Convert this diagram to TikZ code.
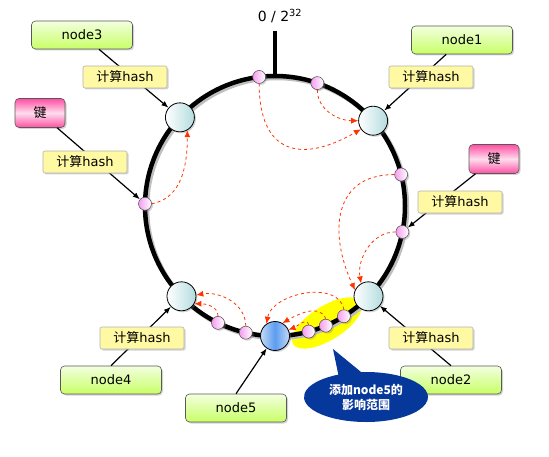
\documentclass[tikz,border=0pt]{standalone}
\usepackage{fontspec}
\setmainfont{DejaVu Sans}
\newfontfamily\cjk{Noto Sans CJK SC}
\usetikzlibrary{shapes.callouts,shadows,arrows.meta}

\definecolor{hubteal}{HTML}{B3DCDF}
\definecolor{hubblue}{HTML}{5C9CF0}
\definecolor{hubbluelt}{HTML}{C4DAF6}
\definecolor{dotpink}{HTML}{F59CF0}
\definecolor{greentop}{HTML}{F3FFDF}
\definecolor{greenbot}{HTML}{C8FF66}
\definecolor{pinkdk}{HTML}{FF4FA3}
\definecolor{pinklt}{HTML}{FFDDEE}
\definecolor{hashyellow}{HTML}{FFF9A3}
\definecolor{moved}{HTML}{FF3300}
\definecolor{notenavy}{HTML}{06379A}
\definecolor{hilite}{HTML}{FFFF00}

\tikzset{
    softshadow/.style={drop shadow={shadow xshift=1.5pt, shadow yshift=-1.5pt, opacity=0.35}},
    ring/.style={line width=4.5pt},
    hub/.style={circle, draw, line width=0.8pt, minimum size=29pt, inner sep=0pt, left color=white, right color=hubteal, softshadow},
    newhub/.style={hub, left color=hubbluelt, right color=hubbluelt, middle color=hubblue},
    keydot/.style={circle, draw=gray!60!black, line width=0.5pt, minimum size=13pt, inner sep=0pt, left color=dotpink, right color=white, softshadow},
    namebox/.style={draw=gray!70!black, line width=0.6pt, rounded corners=4pt, minimum width=101pt, minimum height=28pt, top color=greentop, bottom color=greenbot, font=\fontsize{13}{15}\selectfont, softshadow},
    keybox/.style={namebox, minimum width=50pt, minimum height=29pt, top color=pinkdk, bottom color=pinkdk, middle color=pinklt},
    hashbox/.style={draw=gray!60, line width=0.6pt, rounded corners=2pt, fill=hashyellow, minimum width=84pt, minimum height=22pt, font=\fontsize{13}{15}\selectfont, softshadow},
    feed/.style={line width=1.2pt, -{Latex[length=7pt,width=5.5pt]}},
    move/.style={moved, dashed, line width=0.8pt, -{Latex[length=7pt,width=6pt]}},
    notebubble/.style={ellipse callout, fill=notenavy, text=white, minimum width=124pt, minimum height=50pt, inner sep=0pt, align=center, callout pointer arc=22, font=\cjk\bfseries\fontsize{12}{15}\selectfont}
}

\begin{document}
\begin{tikzpicture}[x=1pt, y=1pt]
        \useasboundingbox (0,0) rectangle (549,456);

        \fill[hilite, rotate around={32:(327,133)}] (327,133) ellipse (40 and 17);

        \begin{scope}[shift={(275,250)}]
        \draw[ring, gray!50] (2,-2) circle (130);
        \draw[ring] (0,0) circle (130);
        \coordinate (top) at (0,130);
        \draw[line width=4pt] (top) -- ++(0,45);

        \node[hub] (n1) at (41:130) {};
        \node[hub] (n2) at (316:130) {};
        \node[hub] (n3) at (137:130) {};
        \node[hub] (n4) at (224:130) {};
        \node[newhub] (n5) at (270:130) {};

        \node[keydot] (k1) at (97:130) {};
        \node[keydot] (k2) at (71:130) {};
        \node[keydot] (k3) at (179:130) {};
        \node[keydot] (k4) at (14:130) {};
        \node[keydot] (k5) at (-11.5:130) {};
        \node[keydot] (k6) at (244:130) {};
        \node[keydot] (k7) at (257:130) {};
        \node[keydot] (k8) at (285:130) {};
        \node[keydot] (k9) at (293:130) {};
        \node[keydot] (k10) at (302:130) {};
        \end{scope}

        \node[font=\fontsize{14}{16}\selectfont] (zero) at (280,440) {0 / 2\textsuperscript{32}};

        \node[namebox] (lab3) at (82,421) {node3};
        \node[namebox] (lab1) at (462,416) {node1};
        \node[namebox] (lab4) at (111,76) {node4};
        \node[namebox] (lab5) at (236,48) {node5};
        \node[namebox] (lab2) at (451,76) {node2};
        \node[keybox] (keyL) at (40,343) {\cjk 键};
        \node[keybox] (keyR) at (494,297) {\cjk 键};

        \draw[feed] (lab3) -- (n3);
        \draw[feed] (keyL) -- (k3);
        \draw[feed] (lab1) -- (n1);
        \draw[feed] (keyR) -- (k5);
        \draw[feed] (lab4.north) -- (n4);
        \draw[feed] (lab5.north) -- (n5);
        \draw[feed] (lab2.north) -- (n2);

        \node[hashbox] (h3) at (125,379) {{\cjk 计算}hash};
        \node[hashbox] (hkL) at (85,294) {{\cjk 计算}hash};
        \node[hashbox] (h1) at (431,379) {{\cjk 计算}hash};
        \node[hashbox] (hkR) at (460,254) {{\cjk 计算}hash};
        \node[hashbox] (h4) at (142,118) {{\cjk 计算}hash};
        \node[hashbox] (h2) at (431,118) {{\cjk 计算}hash};

        \draw[move] (k1.south) to[out=-90, in=210, looseness=1.6] (n1.215);
        \draw[move] (k2.south) to[out=-90, in=180] (n1.west);
        \draw[move] (k3.east) to[out=10, in=-90] (n3.-60);
        \draw[move] (k4.west) to[out=180, in=115, looseness=1.3] (n2.155);
        \draw[move] (k5.west) to[out=180, in=100] (n2.120);
        \draw[move] (k6.north) to[out=90, in=0] (n4.-30);
        \draw[move] (k7.north) to[out=90, in=10] (n4.5);
        \draw[move] (k10.north) to[out=100, in=80] (n5.125);
        \draw[move] (k9.north) to[out=110, in=30] (n5.60);
        \draw[move] (k8.north) to[out=100, in=20] (n5.25);

        \node[notebubble, callout absolute pointer={(333,107)}] (note) at (366,59) {添加node5的\\影响范围};

    \end{tikzpicture}
\end{document}
